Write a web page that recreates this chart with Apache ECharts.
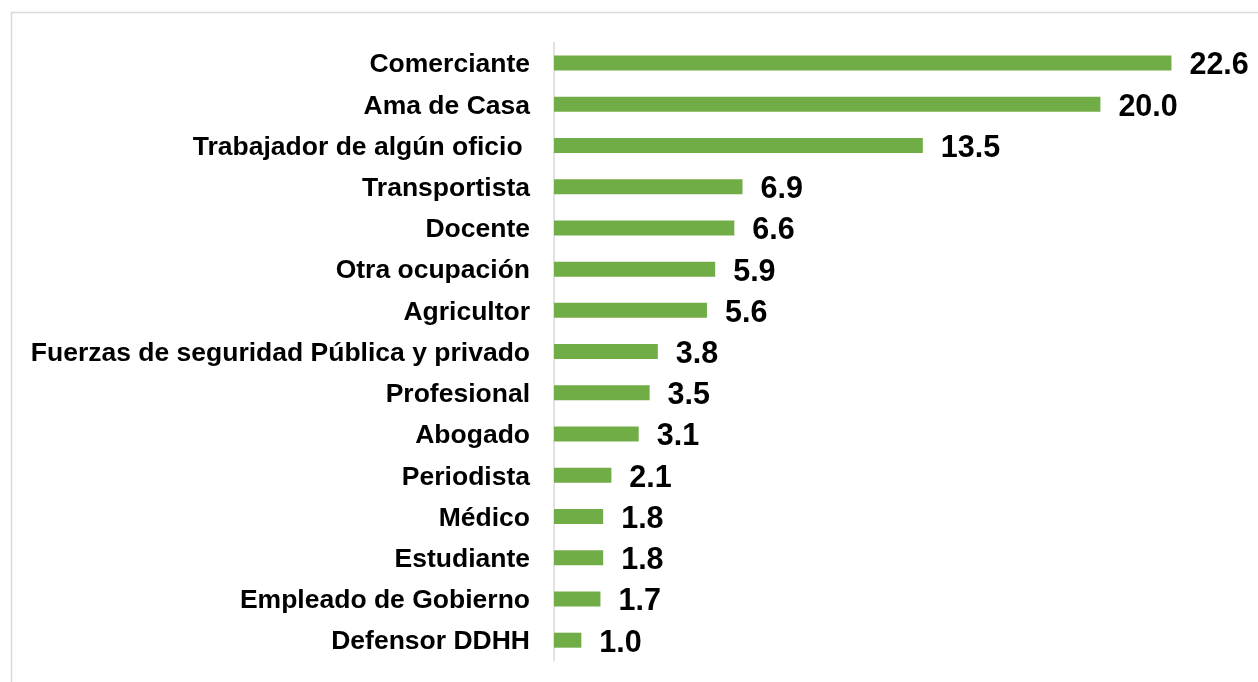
<!DOCTYPE html>
<html>
<head>
<meta charset="utf-8">
<script src="https://cdn.jsdelivr.net/npm/echarts@6/dist/echarts.min.js"></script>
<style>
html,body{margin:0;padding:0;background:#fff;}
#chart{width:1258px;height:682px;}
</style>
</head>
<body>
<div id="chart"></div>
<script>
const categories = [
  "Comerciante",
  "Ama de Casa",
  "Trabajador de algún oficio ",
  "Transportista",
  "Docente",
  "Otra ocupación",
  "Agricultor",
  "Fuerzas de seguridad Pública y privado",
  "Profesional",
  "Abogado",
  "Periodista",
  "Médico",
  "Estudiante",
  "Empleado de Gobierno",
  "Defensor DDHH"
];
const values = [22.6, 20.0, 13.5, 6.9, 6.6, 5.9, 5.6, 3.8, 3.5, 3.1, 2.1, 1.8, 1.8, 1.7, 1.0];

const chart = echarts.init(document.getElementById('chart'));
chart.setOption({
  animation: false,
  backgroundColor: '#ffffff',
  graphic: [{
    type: 'rect',
    shape: {x: 11.5, y: 12.5, width: 1300, height: 700},
    style: {fill: 'none', stroke: '#d9d9d9', lineWidth: 1.5},
    silent: true
  }],
  grid: {left: 554, top: 42.4, width: 683, height: 618.4, containLabel: false},
  xAxis: {
    type: 'value', min: 0, max: 25,
    show: false
  },
  yAxis: {
    type: 'category',
    data: categories,
    inverse: true,
    axisLine: {show: true, lineStyle: {color: '#d9d9d9', width: 1.5}},
    axisTick: {show: false},
    axisLabel: {
      margin: 24,
      color: '#000',
      fontFamily: 'Liberation Sans, Arial, sans-serif',
      fontWeight: 'bold',
      fontSize: 26.5,
      formatter: v => '{a|' + v + '}',
      rich: {
        a: {
          color: '#000',
          fontFamily: 'Liberation Sans, Arial, sans-serif',
          fontWeight: 'bold',
          fontSize: 26.5,
          padding: [4, 0, 0, 0]
        }
      }
    }
  },
  series: [{
    type: 'bar',
    data: values,
    barWidth: 15,
    itemStyle: {color: '#70AD47'},
    label: {
      show: true,
      position: 'right',
      distance: 18,
      offset: [0, 3],
      color: '#000',
      fontFamily: 'Liberation Sans, Arial, sans-serif',
      fontWeight: 'bold',
      fontSize: 30.5
    }
  }]
});
chart.setOption({series: [{label: {formatter: p => p.value.toFixed(1)}}]});
</script>
</body>
</html>
